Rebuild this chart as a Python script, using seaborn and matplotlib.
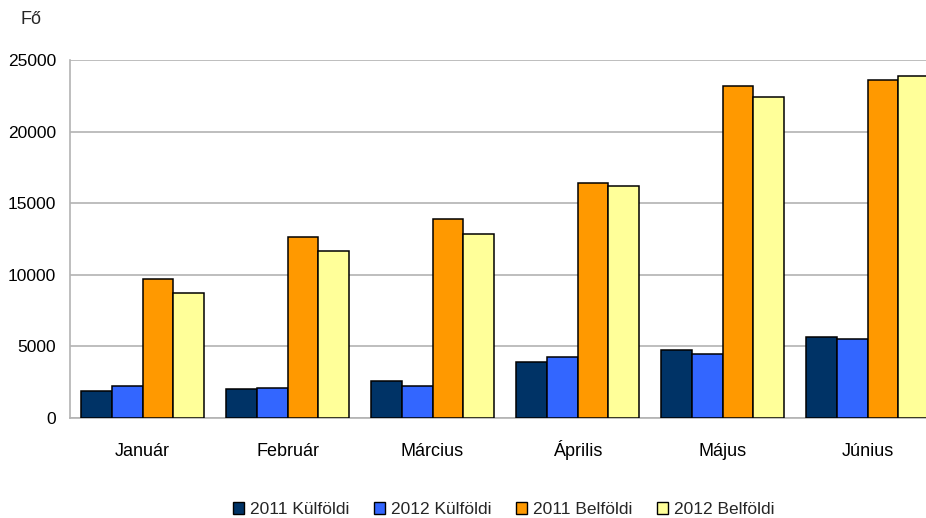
import matplotlib
matplotlib.use("Agg")
import matplotlib.pyplot as plt
import seaborn as sns
import pandas as pd
from matplotlib.patches import Patch

months = ["Január", "Február", "Március", "Április", "Május", "Június"]
series = ["2011 Külföldi", "2012 Külföldi", "2011 Belföldi", "2012 Belföldi"]
kulfoldi_2011 = [1900, 2000, 2560, 3900, 4750, 5650]
kulfoldi_2012 = [2230, 2110, 2230, 4250, 4500, 5550]
belfoldi_2011 = [9700, 12620, 13930, 16450, 23170, 23600]
belfoldi_2012 = [8700, 11640, 12850, 16180, 22390, 23920]
colors = ["#003366", "#3366FF", "#FF9900", "#FFFF99"]

rows = []
for name, vals in zip(series, [kulfoldi_2011, kulfoldi_2012, belfoldi_2011, belfoldi_2012]):
    for m, v in zip(months, vals):
        rows.append({"month": m, "series": name, "value": v})
df = pd.DataFrame(rows)

sns.set_theme(style="white")
plt.rcParams['font.family'] = ['Liberation Sans', 'DejaVu Sans']
fs = 12.5

fig = plt.figure(figsize=(9.26, 5.18), dpi=100)
ax = fig.add_axes([70 / 926, 0.193, 870 / 926, 0.691])

sns.barplot(data=df, x="month", y="value", hue="series", order=months,
            hue_order=series, palette=colors, width=0.85, saturation=1,
            edgecolor="black", linewidth=1.1, legend=False, ax=ax, zorder=3)

ax.set_ylim(0, 25000)
ax.set_xlim(-0.5, 5.5)
ax.set_yticks([0, 5000, 10000, 15000, 20000, 25000])
ax.yaxis.grid(True, color="#b3b3b3", linewidth=1.2, zorder=0)
ax.set_axisbelow(True)
ax.set_xlabel("")
ax.set_ylabel("")
for s in ["top", "right"]:
    ax.spines[s].set_visible(False)
for s in ["left", "bottom"]:
    ax.spines[s].set_color("#b3b3b3")
    ax.spines[s].set_linewidth(1.2)

ax.tick_params(axis="x", which="major", length=0, labelsize=13, pad=27, colors="black")
for lbl in ax.get_xticklabels():
    lbl.set_va("baseline")
ax.set_xticks([i - 0.5 for i in range(7)], minor=True)
ax.tick_params(axis="x", which="minor", length=7, width=1.2, color="#b3b3b3", direction="out")
ax.tick_params(axis="y", length=7, width=1.2, color="#b3b3b3", labelsize=fs, direction="out", pad=3)
for lbl in ax.get_yticklabels():
    lbl.set_color("black")

fig.text(0.022, 0.962, "Fő", fontsize=13, ha="left", va="center")

handles = [Patch(facecolor=c, edgecolor="black", linewidth=1.0, label=s) for c, s in zip(colors, series)]
fig.legend(handles=handles, loc="center", bbox_to_anchor=(0.544, 0.016), ncol=4,
           frameon=False, fontsize=fs, handlelength=0.65, handleheight=0.65,
           handletextpad=0.35, columnspacing=1.4, borderaxespad=0)

fig.savefig("out.png", dpi=100)
